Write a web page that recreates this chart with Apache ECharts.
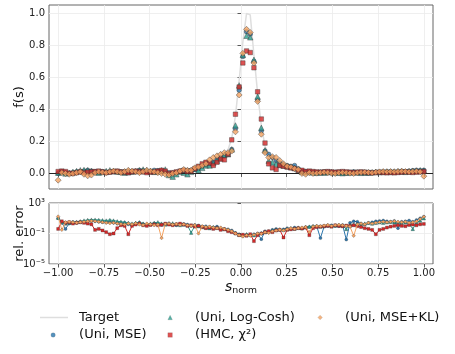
<!DOCTYPE html>
<html><head><meta charset="utf-8">
<script src="https://cdn.jsdelivr.net/npm/echarts@6/dist/echarts.min.js"></script>
<style>html,body{margin:0;padding:0;background:#fff}#c{width:455px;height:354px}</style>
</head><body><div id="c"></div>
<script>
// sampling grid (100 evenly spaced points on [-1, 1])
const N_POINTS = 100, S_START = -1, S_END = 1;
const sNorm = Array.from({length: N_POINTS}, (_, i) => S_START + (S_END - S_START) * i / (N_POINTS - 1));

const seriesNames = ['Target', '(Uni, MSE)', '(Uni, Log-Cosh)', '(HMC, χ²)', '(Uni, MSE+KL)'];

// f(s) values
const target = [
 0.002,0.004,0.006,0.008,0.01,0.01,0.01,0.011,0.012,0.012,
 0.012,0.011,0.01,0.01,0.01,0.01,0.011,0.012,0.012,0.012,
 0.012,0.012,0.013,0.013,0.013,0.013,0.012,0.012,0.012,0.011,
 0.011,0.011,0.012,0.013,0.015,0.018,0.022,0.028,0.035,0.042,
 0.05,0.06,0.072,0.085,0.1,0.12,0.15,0.22,0.36,0.58,
 0.82,1.0,0.99,0.74,0.5,0.3,0.17,0.12,0.1,0.085,
 0.07,0.06,0.05,0.042,0.035,0.03,0.025,0.02,0.018,0.016,
 0.014,0.013,0.012,0.011,0.01,0.01,0.01,0.009,0.009,0.009,
 0.009,0.009,0.008,0.008,0.008,0.008,0.008,0.008,0.008,0.008,
 0.008,0.008,0.008,0.008,0.008,0.007,0.006,0.005,0.004,0.002];
const fMSE = [
 0.0,0.012,0.006,0.0,0.005,0.01,0.012,0.016,0.02,0.016,
 0.01,0.008,0.012,0.008,0.01,0.012,0.01,0.008,0.012,0.015,
 0.01,0.012,0.02,0.018,0.015,0.012,0.02,0.018,0.015,0.01,
 0.005,0.002,0.006,0.012,0.02,0.018,0.02,0.025,0.03,0.045,
 0.055,0.06,0.07,0.09,0.1,0.11,0.12,0.15,0.28,0.52,
 0.73,0.885,0.87,0.70,0.46,0.265,0.14,0.12,0.10,0.08,
 0.065,0.055,0.05,0.045,0.05,0.03,0.015,0.012,0.01,0.008,
 0.006,0.008,0.01,0.006,0.004,0.006,0.008,0.006,0.004,0.006,
 0.01,0.008,0.006,0.004,0.002,0.004,0.006,0.008,0.01,0.012,
 0.012,0.01,0.012,0.014,0.012,0.015,0.018,0.02,0.018,0.02];
const fLogCosh = [
 0.005,0.008,0.0,0.004,0.01,0.015,0.02,0.022,0.02,0.015,
 0.01,0.005,0.01,0.015,0.02,0.015,0.012,0.01,0.005,0.008,
 0.012,0.015,0.02,0.025,0.02,0.015,0.01,0.012,0.02,0.025,
 -0.01,-0.02,-0.005,0.01,0.005,-0.005,0.01,0.03,0.02,0.035,
 0.05,0.05,0.065,0.08,0.095,0.115,0.12,0.15,0.30,0.55,
 0.74,0.86,0.85,0.71,0.48,0.285,0.145,0.08,0.07,0.06,
 0.055,0.05,0.045,0.04,0.035,0.025,0.01,0.008,0.01,0.006,
 0.004,0.006,0.005,0.008,0.01,0.006,0.004,0.002,0.004,0.006,
 0.008,0.006,0.004,0.005,0.006,0.008,0.01,0.008,0.01,0.012,
 0.01,0.012,0.014,0.012,0.01,0.014,0.016,0.018,0.02,0.018];
const fHMC = [
 0.012,0.015,0.012,0.002,0.0,0.005,0.01,0.005,0.008,0.01,
 0.012,0.015,0.01,0.005,0.008,0.012,0.015,0.01,0.008,0.005,
 0.01,0.015,0.012,0.01,0.005,0.008,0.01,0.015,0.02,0.015,
 0.0,0.005,0.01,0.015,0.02,0.012,0.015,0.03,0.045,0.06,
 0.07,0.065,0.05,0.07,0.09,0.085,0.12,0.21,0.37,0.54,
 0.69,0.765,0.755,0.66,0.51,0.34,0.19,0.06,0.035,0.025,
 0.05,0.045,0.04,0.035,0.03,0.02,0.02,0.012,0.015,0.012,
 0.01,0.008,0.01,0.012,0.01,0.008,0.01,0.012,0.01,0.008,
 0.006,0.008,0.01,0.008,0.006,0.004,0.006,0.008,0.006,0.004,
 0.006,0.004,0.006,0.008,0.01,0.008,0.006,0.008,0.01,0.012];
const fMSEKL = [
 -0.042,0.005,0.0,-0.005,0.0,0.005,0.01,-0.005,-0.015,-0.01,
 0.005,0.01,0.008,0.005,0.01,0.015,0.01,0.005,0.012,0.02,
 0.015,0.01,0.005,0.012,0.02,0.015,0.01,0.005,0.0,-0.005,
 -0.01,0.0,0.005,0.015,0.025,0.02,0.02,0.035,0.04,0.05,
 0.06,0.085,0.10,0.11,0.12,0.13,0.13,0.14,0.26,0.49,
 0.75,0.90,0.88,0.69,0.45,0.245,0.13,0.10,0.105,0.10,
 0.08,0.06,0.045,0.04,0.03,0.025,0.0,-0.005,0.005,0.0,
 0.002,0.005,0.008,0.005,0.002,0.0,0.004,0.006,0.004,0.002,
 0.0,0.004,0.006,0.008,0.006,0.004,0.008,0.01,0.012,0.01,
 0.012,0.01,0.012,0.014,0.012,0.01,0.012,0.014,0.01,-0.017];

// relative error values
const errMSE = [
 10,2.5,0.4,2.0,3.2,2.5,3.0,3.5,4.0,4.5,
 4.0,3.5,3.0,2.8,3.2,2.5,2.0,2.2,2.5,1.6,
 1.3,2.0,2.5,1.8,1.2,1.5,2.0,1.6,1.3,1.8,
 2.2,1.6,1.2,1.4,1.8,1.5,1.0,1.3,1.1,0.8,
 0.9,0.7,0.6,0.8,0.5,0.4,0.35,0.25,0.12,0.08,
 0.05,0.07,0.06,0.08,0.1,0.018,0.2,0.15,0.3,0.4,
 0.3,0.35,0.5,0.4,0.6,0.5,0.45,0.6,0.7,0.8,
 0.9,0.025,0.8,1.0,1.2,1.0,0.9,1.3,0.016,2.5,
 4.0,3.5,2.0,1.6,2.5,3.0,4.0,4.5,5.0,4.0,
 3.5,4.5,0.5,3.5,4.0,5.0,3.5,6.0,10,16];
const errLogCosh = [
 12,3.0,2.0,2.5,3.0,3.5,4.0,5.0,6.0,6.5,
 6.5,6.0,5.5,5.0,6.0,5.0,4.0,3.5,3.0,2.5,
 2.0,2.5,3.0,2.0,1.6,2.0,2.5,3.0,2.0,1.5,
 1.8,2.2,1.6,1.3,1.5,1.2,0.13,1.0,0.9,0.7,
 0.6,0.5,0.7,0.6,0.45,0.4,0.3,0.2,0.12,0.07,
 0.06,0.08,0.07,0.06,0.09,0.12,0.15,0.2,0.25,0.3,
 0.35,0.3,0.4,0.5,0.45,0.6,0.5,0.7,0.8,1.0,
 0.9,0.8,1.0,1.2,0.9,1.1,1.3,1.0,0.4,1.2,
 1.5,1.8,1.3,2.0,2.5,2.0,2.5,3.0,2.5,3.0,
 3.5,3.0,3.0,2.5,3.0,2.0,0.4,2.5,5.0,10];
const errHMC = [
 0.4,4.0,2.5,3.0,2.0,2.5,3.0,2.5,2.0,1.6,
 0.3,0.4,0.25,0.15,0.08,0.1,0.5,1.2,1.0,0.08,
 1.0,1.5,2.0,1.2,1.0,1.3,1.6,1.2,1.4,2.0,
 1.5,1.2,1.6,2.0,1.5,1.0,1.2,0.8,1.0,0.7,
 0.5,0.6,0.4,0.5,0.3,0.35,0.2,0.15,0.1,0.06,
 0.07,0.05,0.08,0.01,0.06,0.1,0.15,0.2,0.15,0.25,
 0.3,0.03,0.3,0.35,0.4,0.5,0.45,0.6,0.06,0.5,
 0.7,0.8,0.9,1.0,0.8,1.2,1.0,0.9,1.1,1.0,
 1.2,0.9,0.7,0.5,0.4,0.3,0.08,0.3,0.4,0.6,
 0.8,1.0,1.2,1.0,0.9,1.3,1.5,1.2,1.6,1.8];
const errMSEKL = [
 17,0.3,3.0,3.5,3.0,2.5,3.0,3.5,4.0,4.5,
 4.0,3.5,3.0,2.5,2.2,2.5,2.0,1.8,1.5,2.0,
 1.6,2.2,1.5,1.3,2.0,1.6,1.2,1.5,0.025,1.8,
 2.0,1.5,1.8,1.3,1.6,1.2,1.0,1.3,0.1,0.9,
 0.7,0.8,0.6,0.5,0.6,0.4,0.3,0.2,0.1,0.06,
 0.04,0.06,0.05,0.07,0.1,0.09,0.15,0.12,0.2,0.25,
 0.3,0.25,0.35,0.5,0.4,0.5,0.6,0.7,0.15,0.8,
 1.0,0.9,1.1,1.3,1.0,1.2,1.4,1.2,1.0,0.8,
 0.05,1.5,2.0,1.6,2.5,2.0,2.5,3.0,3.5,3.0,
 3.5,4.0,3.5,3.0,3.5,2.5,3.0,4.0,8.0,16];

// tick values
const xTicks = [-1, -0.75, -0.5, -0.25, 0, 0.25, 0.5, 0.75, 1];
const fTicks = [0, 0.2, 0.4, 0.6, 0.8, 1.0];
const errTicks = [1e-5, 1e-1, 1e3];

const FONT = 'DejaVu Sans';
const colors = {mse: '#2b76ad', lc: '#2a9d8f', hmc: '#d62828', kl: '#f4a261', target: '#dedede'};
const pair = ys => sNorm.map((s, i) => [s, ys[i]]);
const SUP = {'-':'⁻','0':'⁰','1':'¹','2':'²','3':'³','4':'⁴','5':'⁵','6':'⁶','7':'⁷','8':'⁸','9':'⁹'};
const logLabel = v => '10' + String(Math.round(Math.log10(v))).split('').map(c => SUP[c]).join('');
const minus = s => s.replace('-', '\u2212');

const gridLine = {show: true, lineStyle: {color: '#ebebeb', width: 0.8}};
const tick = vals => ({show: true, customValues: vals, length: 3.5, lineStyle: {color: '#333', width: 0.8}});
const lbl = {fontSize: 10, color: '#222', fontFamily: FONT, margin: 4};

const edge = {borderColor: '#333', borderWidth: 0.5};
const topSeries = [
  {name: seriesNames[1], data: fMSE, symbol: 'circle', size: 4.5, color: colors.mse},
  {name: seriesNames[2], data: fLogCosh, symbol: 'triangle', size: 5.5, color: colors.lc},
  {name: seriesNames[3], data: fHMC, symbol: 'rect', size: 4.5, color: colors.hmc},
  {name: seriesNames[4], data: fMSEKL, symbol: 'diamond', size: 6, color: colors.kl}
];
const errSeries = [
  {name: 'err1', data: errMSE, symbol: 'circle', size: 3, color: colors.mse},
  {name: 'err2', data: errLogCosh, symbol: 'triangle', size: 3.5, color: colors.lc},
  {name: 'err3', data: errHMC, symbol: 'rect', size: 3, color: colors.hmc},
  {name: 'err4', data: errMSEKL, symbol: 'diamond', size: 3.5, color: colors.kl}
];

const series = [
  {name: seriesNames[0], type: 'line', xAxisIndex: 0, yAxisIndex: 0, data: pair(target), symbol: 'none',
   lineStyle: {color: colors.target, width: 1.5}, itemStyle: {color: colors.target}, z: 1, silent: true,
   markLine: {silent: true, symbol: 'none', label: {show: false}, lineStyle: {color: '#222', width: 1, type: 'solid'},
     data: [{yAxis: 0}]}}
];
topSeries.forEach((d, k) => series.push({
  name: d.name, type: 'scatter', xAxisIndex: 0, yAxisIndex: 0, data: pair(d.data),
  symbol: d.symbol, symbolSize: d.size, itemStyle: Object.assign({color: d.color}, edge), z: 3 + k
}));
errSeries.forEach((d, k) => series.push({
  name: d.name, type: 'line', xAxisIndex: 1, yAxisIndex: 1, data: pair(d.data),
  symbol: d.symbol, symbolSize: d.size, showSymbol: true,
  lineStyle: {color: d.color, width: 1}, itemStyle: {color: d.color, borderColor: '#333', borderWidth: 0.3}, z: 3 + k
}));

const legendText = pad => ({fontSize: 13, color: '#111', fontFamily: FONT, padding: [0, 0, 0, pad]});
const mkLegend = (left, top, name, w, h, pad, icon) => ({
  orient: 'vertical', padding: 0, left: left, top: top, itemWidth: w, itemHeight: h,
  itemStyle: icon ? {borderWidth: 0, color: colors.target} : {borderWidth: 0.2, borderColor: '#555'},
  data: [icon ? {name: name, icon: icon} : name], textStyle: legendText(pad)
});

const ROW1 = 311, ROW2 = 328.5;
const MK = 4.5;
const option = {
  animation: false,
  backgroundColor: '#fff',
  textStyle: {fontFamily: FONT},
  grid: [
    {left: 49, right: 22, top: 5, height: 184, show: true, borderColor: '#666', borderWidth: 1, backgroundColor: 'transparent'},
    {left: 49, right: 22, top: 203, height: 61, show: true, borderColor: '#666', borderWidth: 1, backgroundColor: 'transparent'}
  ],
  xAxis: [
    {type: 'value', gridIndex: 0, min: -1.05, max: 1.05, axisLine: {show: false},
     axisTick: tick(xTicks), axisLabel: {show: false, customValues: xTicks}, splitLine: gridLine},
    {type: 'value', gridIndex: 1, min: -1.05, max: 1.05, axisLine: {show: false},
     axisTick: tick(xTicks), axisLabel: Object.assign({customValues: xTicks, formatter: v => minus(v.toFixed(2))}, lbl),
     splitLine: gridLine,
     name: '{i|s}{sub|norm}', nameLocation: 'middle', nameGap: 14, nameMoveOverlap: false,
     nameTextStyle: {rich: {i: {fontSize: 14, fontStyle: 'italic', fontFamily: FONT, color: '#111'},
                            sub: {fontSize: 9.5, fontFamily: FONT, color: '#111', padding: [8, 0, 0, 0]}}}}
  ],
  yAxis: [
    {type: 'value', gridIndex: 0, min: -0.097, max: 1.052, axisLine: {show: false},
     axisTick: tick(fTicks), axisLabel: Object.assign({customValues: fTicks, formatter: v => minus(v.toFixed(1))}, lbl),
     splitLine: gridLine,
     name: 'f(s)', nameLocation: 'middle', nameGap: 22.5, nameMoveOverlap: false,
     nameTextStyle: {fontSize: 13, color: '#111', fontFamily: FONT}},
    {type: 'log', logBase: 10, gridIndex: 1, min: 1e-5, max: 1e3, axisLine: {show: false},
     axisTick: tick(errTicks), axisLabel: Object.assign({customValues: errTicks, formatter: logLabel}, lbl),
     splitLine: gridLine, minorTick: {show: false},
     name: 'rel. error', nameLocation: 'middle', nameGap: 22.5, nameMoveOverlap: false,
     nameTextStyle: {fontSize: 13, color: '#111', fontFamily: FONT}}
  ],
  legend: [
    mkLegend(40, ROW1, seriesNames[0], 28, 1.5, 6, 'rect'),
    mkLegend(53 - MK / 2, ROW2, seriesNames[1], MK, MK, 79 - (53 + MK / 2 + 5)),
    mkLegend(170 - MK / 2, ROW1, seriesNames[2], MK, MK, 195 - (170 + MK / 2 + 5)),
    mkLegend(170 - MK / 2, ROW2, seriesNames[3], MK, MK, 195 - (170 + MK / 2 + 5)),
    mkLegend(320 - MK / 2, ROW1, seriesNames[4], MK, MK, 345 - (320 + MK / 2 + 5))
  ],
  series: series
};

const chart = echarts.init(document.getElementById('c'), null, {renderer: 'canvas'});
chart.setOption(option);
</script>
</body></html>
